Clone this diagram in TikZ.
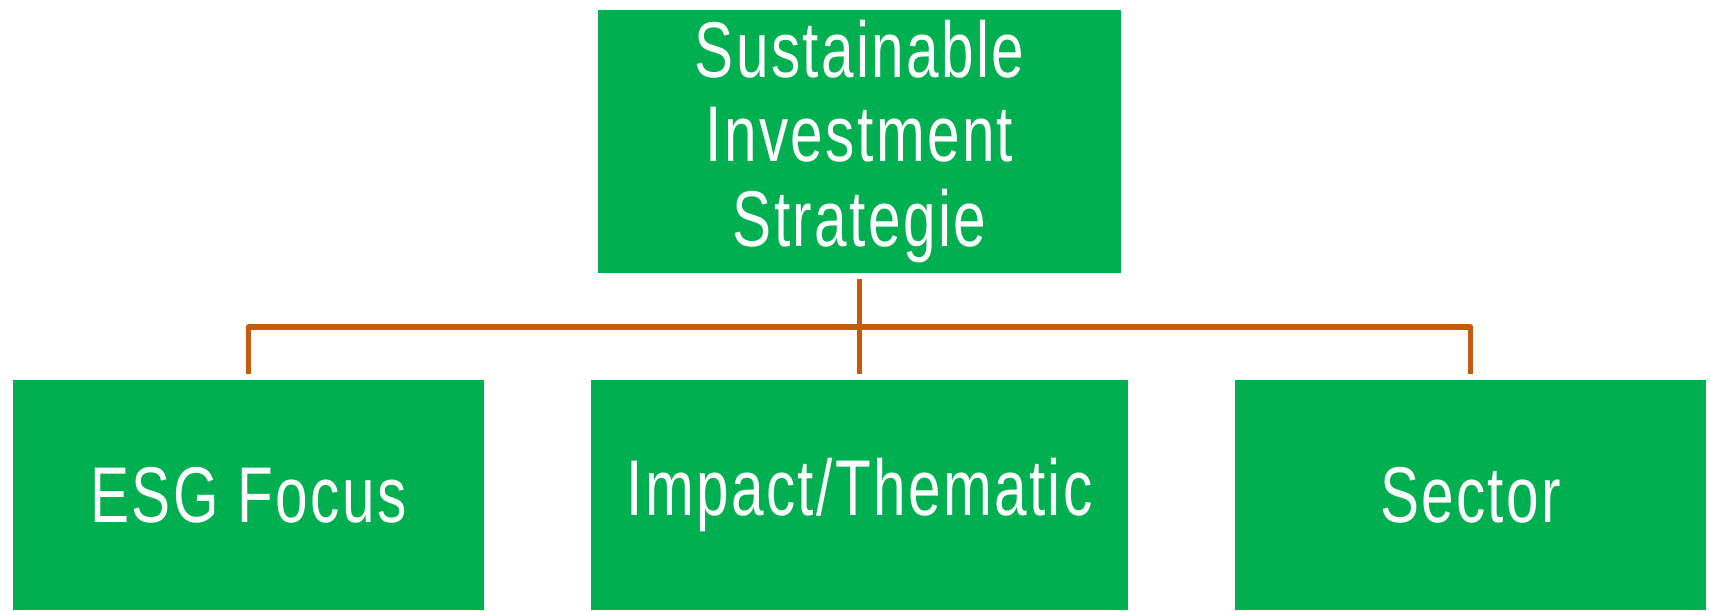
\documentclass[tikz,border=0pt]{standalone}
\usepackage{fontspec}
\setmainfont[FakeStretch=0.74,LetterSpace=3]{Liberation Sans}
\definecolor{boxgreen}{HTML}{00B050}
\definecolor{linebrown}{HTML}{C55A11}
\tikzset{
  stratbox/.style={fill=boxgreen, text=white, align=center, inner sep=0pt,
    font=\fontsize{45}{48}\selectfont},
  conn/.style={draw=linebrown, line width=3.2pt, line join=round, shorten <=3.4pt, shorten >=3.4pt}
}
\begin{document}
\begin{tikzpicture}[x=0.02cm, y=-0.02cm]
\useasboundingbox (0,0) rectangle (1710,610);
\node[stratbox, minimum width=10.46cm, minimum height=5.26cm] (top) at (859.5,141.5) {Sustainable\\Investment\\Strategie};
\node[stratbox, minimum width=9.42cm, minimum height=4.6cm] (esg) at (248.5,495) {ESG Focus};
\node[stratbox, minimum width=10.74cm, minimum height=4.6cm] (impact) at (859.5,495) {Impact/Thematic};
\node[stratbox, minimum width=9.42cm, minimum height=4.6cm] (sector) at (1470.5,495) {Sector};
\coordinate (bus) at (859.5,327);
\path[conn] (top) -- (impact);
\path[conn] (esg.north) |- (bus) -| (sector.north);
\end{tikzpicture}
\end{document}
